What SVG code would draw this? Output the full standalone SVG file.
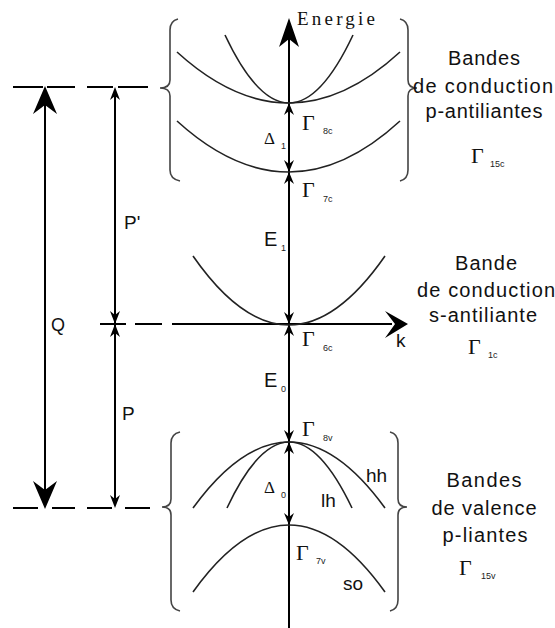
<svg xmlns="http://www.w3.org/2000/svg" width="555" height="628" viewBox="0 0 555 628">
<style>
.ax{stroke:#000;stroke-width:2;fill:none}
.band{stroke:#222;stroke-width:1.6;fill:none}
.brace{stroke:#444;stroke-width:1.6;fill:none}
.ah{fill:#000;stroke:none}
.sans{font-family:"Liberation Sans",Arial,sans-serif;fill:#111}
.serif{font-family:"Liberation Serif","Times New Roman",serif;fill:#111}
.gam{font-family:"Liberation Serif","Times New Roman",serif;font-size:22px;fill:#111}
.sub{font-family:"Liberation Sans",Arial,sans-serif;font-size:9px;fill:#222}
.lbl{font-family:"Liberation Sans",Arial,sans-serif;font-size:20px;fill:#111;text-anchor:middle}
</style>
<rect width="555" height="628" fill="#fff"/>
<g id="connectors">
  <path class="ax" d="M13,87 H43 M47,87 H75 M87,87 H113 M118,87 H148"/>
  <path class="ax" d="M13,508 H38 M52,508 H75 M87,508 H112 M125,508 H150"/>
  <path class="ax" d="M100,324 H126 M135,324 H162 M172,324 H392"/>
  <path class="ax" d="M289,30 V628"/>
  <path class="ah" d="M289,18 L279,47 L289,39 L299,47 Z"/>
  <path class="ah" d="M408,324 L385,311 L395,324 L385,338 Z"/>
  <path class="ax" d="M45,100 V496"/>
  <path class="ah" d="M45,86 L33,114 L45,105 L57,114 Z"/>
  <path class="ah" d="M45,509 L33,481 L45,490 L57,481 Z"/>
  <path class="ax" d="M115,92 V504"/>
  <path class="ah" d="M115,87 L110,100 L115,96 L120,100 Z"/>
  <path class="ah" d="M115,324 L110,311 L115,315 L120,311 Z"/>
  <path class="ah" d="M115,324 L110,337 L115,333 L120,337 Z"/>
  <path class="ah" d="M115,508 L110,495 L115,499 L120,495 Z"/>
  <path class="ah" d="M289,103 L284,115 L289,111 L294,115 Z"/>
  <path class="ah" d="M289,172 L284,160 L289,164 L294,160 Z"/>
  <path class="ah" d="M289,172 L284,184 L289,180 L294,184 Z"/>
  <path class="ah" d="M289,324 L284,312 L289,316 L294,312 Z"/>
  <path class="ah" d="M289,324 L284,336 L289,332 L294,336 Z"/>
  <path class="ah" d="M289,442 L284,430 L289,434 L294,430 Z"/>
  <path class="ah" d="M289,442 L284,454 L289,450 L294,454 Z"/>
  <path class="ah" d="M289,525 L284,513 L289,517 L294,513 Z"/>
</g>
<g id="conduction-p">
  <path class="band" d="M177,52 Q289,154 400,52"/>
  <path class="band" d="M225,35 Q289,171 353,35"/>
  <path class="band" d="M177,121 Q289,223 400,121"/>
  <path class="brace" d="M178,19 Q170,21 170,30 V80 Q170,88 160,88 Q170,88 170,96 V170 Q170,179 180,181"/>
  <path class="brace" d="M400,19 Q408,21 408,30 V80 Q408,88 417,88 Q408,88 408,96 V170 Q408,179 400,181"/>
</g>
<g id="conduction-s">
  <path class="band" d="M193,256 Q289,394 385,256"/>
</g>
<g id="valence">
  <path class="band" d="M193,508 Q289,376 385,508"/>
  <path class="band" d="M227,508 Q289,376 352,508"/>
  <path class="band" d="M193,592 Q289,458 385,592"/>
  <path class="brace" d="M180,432 Q171,434 171,443 V499 Q171,507 162,507 Q171,507 171,515 V600 Q171,609 180,611"/>
  <path class="brace" d="M390,432 Q398,434 398,443 V499 Q398,507 407,507 Q398,507 398,515 V600 Q398,609 390,611"/>
</g>
<g id="labels-axis">
  <text class="serif" x="297" y="25" font-size="19" textLength="78">Energie</text>
  <text class="sans" x="396" y="347" font-size="19">k</text>
  <text class="sans" x="51" y="331" font-size="18">Q</text>
  <text class="sans" x="124" y="229" font-size="19">P'</text>
  <text class="sans" x="122" y="420" font-size="19">P</text>
</g>
<g id="labels-gap">
  <text class="serif" x="264" y="144" font-size="17">Δ</text><text class="sub" x="281" y="149">1</text>
  <text class="sans" x="264" y="246" font-size="20">E</text><text class="sub" x="281" y="251">1</text>
  <text class="sans" x="264" y="387" font-size="20">E</text><text class="sub" x="281" y="392">0</text>
  <text class="serif" x="264" y="493" font-size="17">Δ</text><text class="sub" x="281" y="498">0</text>
</g>
<g id="labels-gamma">
  <text class="gam" x="302" y="130">Γ</text><text class="sub" x="323" y="134">8c</text>
  <text class="gam" x="302" y="197">Γ</text><text class="sub" x="323" y="202">7c</text>
  <text class="gam" x="302" y="346">Γ</text><text class="sub" x="323" y="351">6c</text>
  <text class="gam" x="302" y="436">Γ</text><text class="sub" x="323" y="441">8v</text>
  <text class="gam" x="296" y="560">Γ</text><text class="sub" x="316" y="564">7v</text>
  <text class="sans" x="366" y="482" font-size="19">hh</text>
  <text class="sans" x="321" y="507" font-size="19">lh</text>
  <text class="sans" x="343" y="590" font-size="19">so</text>
</g>
<g id="label-conduction-p">
  <text class="lbl" x="484" y="65" textLength="72">Bandes</text>
  <text class="lbl" x="483" y="93" textLength="140">de conduction</text>
  <text class="lbl" x="484" y="118" textLength="117">p-antiliantes</text>
  <text class="gam" x="471" y="163">Γ</text><text class="sub" x="490" y="167">15c</text>
</g>
<g id="label-conduction-s">
  <text class="lbl" x="486" y="270" textLength="62">Bande</text>
  <text class="lbl" x="486" y="297" textLength="138">de conduction</text>
  <text class="lbl" x="483" y="322" textLength="108">s-antiliante</text>
  <text class="gam" x="468" y="354">Γ</text><text class="sub" x="488" y="358">1c</text>
</g>
<g id="label-valence">
  <text class="lbl" x="484" y="487" textLength="75">Bandes</text>
  <text class="lbl" x="484" y="515" textLength="105">de valence</text>
  <text class="lbl" x="485" y="542" textLength="85">p-liantes</text>
  <text class="gam" x="459" y="575">Γ</text><text class="sub" x="481" y="579">15v</text>
</g>
</svg>
